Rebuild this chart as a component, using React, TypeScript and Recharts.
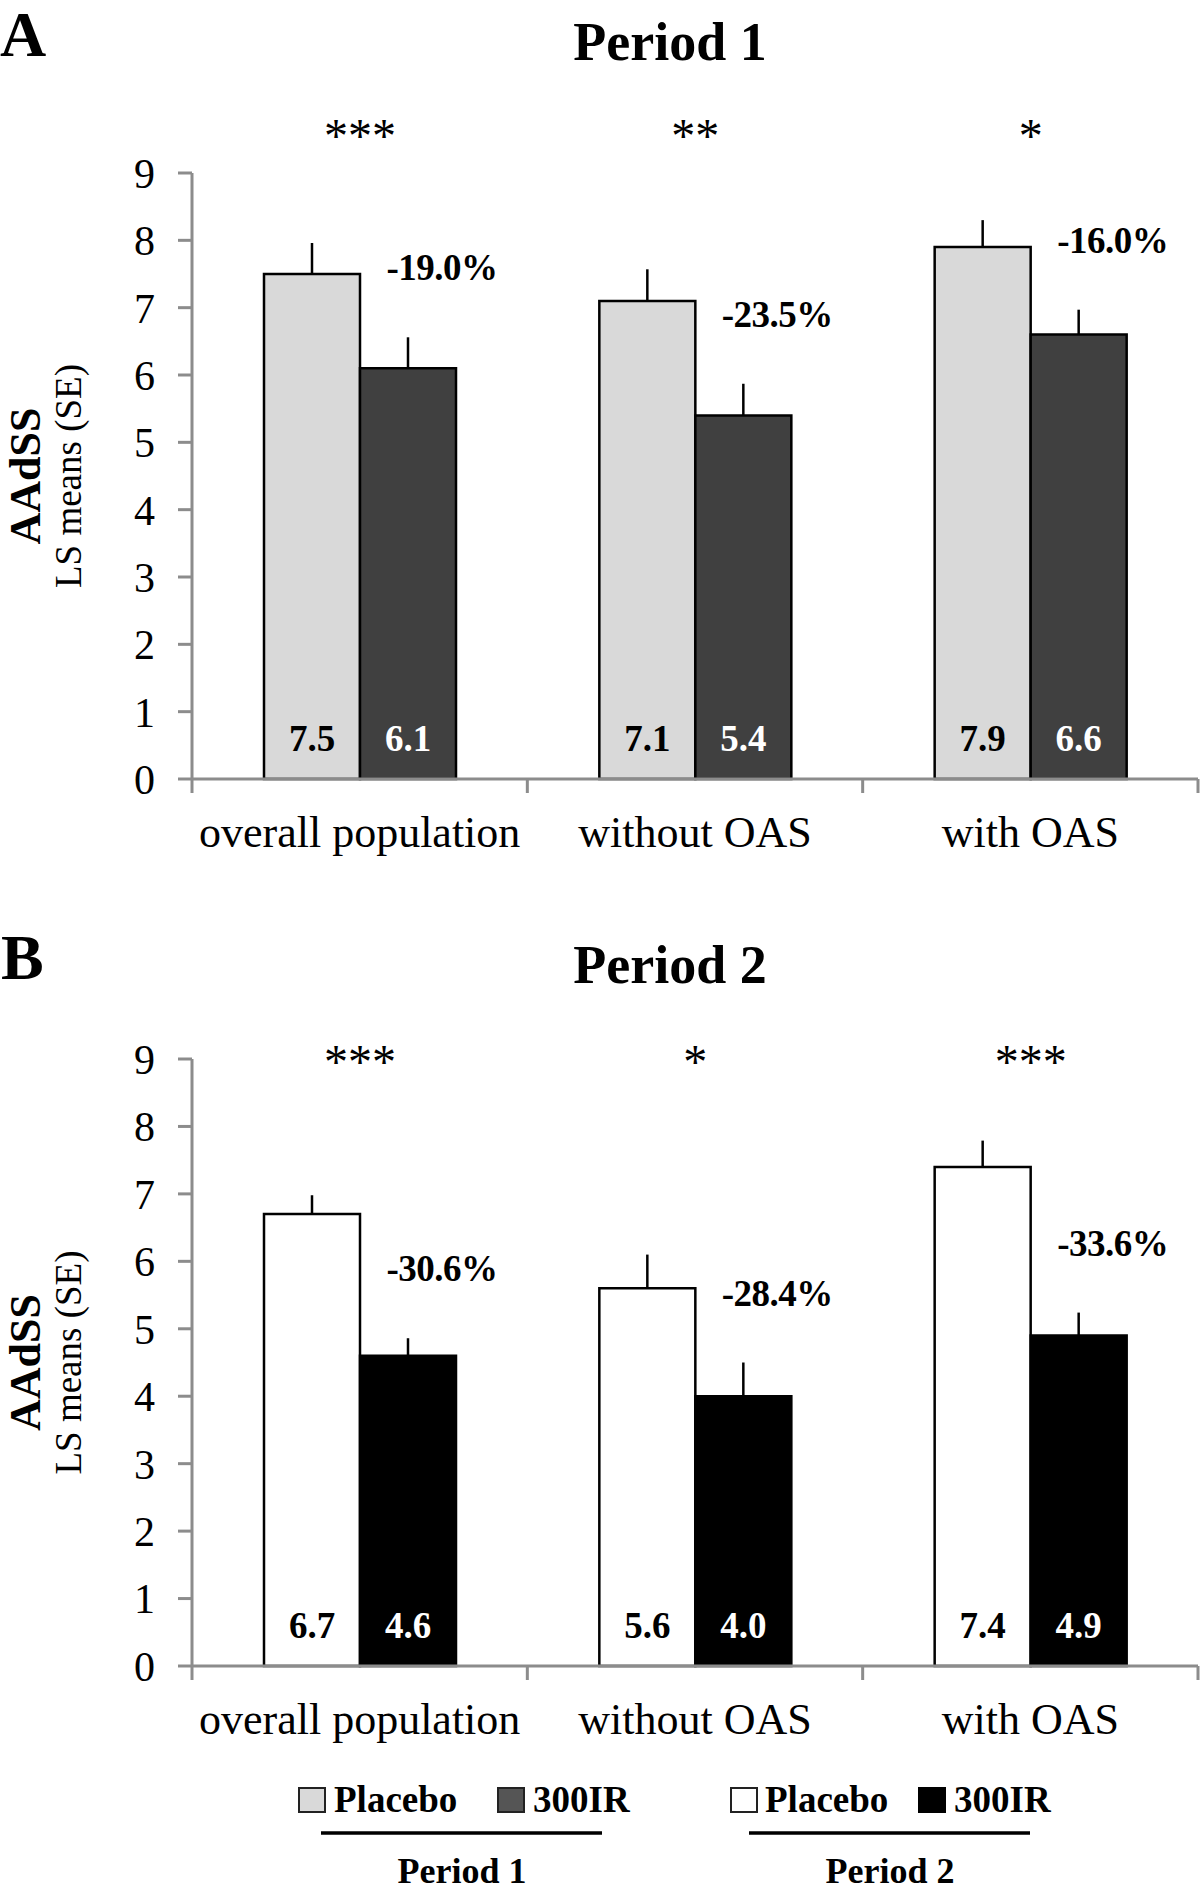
import React from 'react';
import { BarChart, Bar, XAxis, YAxis, ErrorBar, LabelList } from 'recharts';

// categories and values
const groups = ['overall population', 'without OAS', 'with OAS'];
const yTicks = [0, 1, 2, 3, 4, 5, 6, 7, 8, 9];

const p1Placebo = [7.5, 7.1, 7.9];
const p1Active = [6.1, 5.4, 6.6];
const p1PlaceboSE = [0.46, 0.47, 0.4];
const p1ActiveSE = [0.46, 0.47, 0.37];
const p1Change = ['-19.0%', '-23.5%', '-16.0%'];
const p1Stars = ['***', '**', '*'];

const p2Placebo = [6.7, 5.6, 7.4];
const p2Active = [4.6, 4.0, 4.9];
const p2PlaceboSE = [0.28, 0.5, 0.39];
const p2ActiveSE = [0.26, 0.5, 0.34];
const p2Change = ['-30.6%', '-28.4%', '-33.6%'];
const p2Stars = ['***', '*', '***'];

const FONT = "'Liberation Serif', 'Times New Roman', Times, serif";
const AXIS_GREY = '#8c8c8c';

function buildRows(
  placebo: number[],
  active: number[],
  placeboSE: number[],
  activeSE: number[],
  change: string[],
  stars: string[]
) {
  return groups.map((g, i) => ({
    group: g,
    placebo: placebo[i],
    active: active[i],
    placeboErr: [0, placeboSE[i]],
    activeErr: [0, activeSE[i]],
    activeSE: activeSE[i],
    change: change[i],
    stars: stars[i]
  }));
}

const rows1 = buildRows(p1Placebo, p1Active, p1PlaceboSE, p1ActiveSE, p1Change, p1Stars);
const rows2 = buildRows(p2Placebo, p2Active, p2PlaceboSE, p2ActiveSE, p2Change, p2Stars);

// x axis: labels at band centres, tick marks at band edges
const CategoryTick = (props: any) => {
  const { x, y, payload, index, visibleTicksCount } = props;
  const half = payload && payload.offset ? payload.offset : 0;
  const last = index === (visibleTicksCount ?? 3) - 1;
  return (
    <g>
      <line x1={x - half} x2={x - half} y1={y} y2={y + 14} stroke={AXIS_GREY} strokeWidth={3} />
      {last && (
        <line x1={x + half} x2={x + half} y1={y} y2={y + 14} stroke={AXIS_GREY} strokeWidth={3} />
      )}
      <text x={x} y={y + 68} textAnchor="middle" fontFamily={FONT} fontSize={44} fill="#000">
        {payload.value}
      </text>
    </g>
  );
};

const AxisTitle = (props: any) => {
  const vb = props.viewBox || {};
  const cy = vb.y + vb.height / 2;
  return (
    <g>
      <text
        x={40}
        y={cy}
        transform={`rotate(-90, 40, ${cy})`}
        textAnchor="middle"
        fontFamily={FONT}
        fontWeight="bold"
        fontSize={44}
        fill="#000"
      >
        AAdSS
      </text>
      <text
        x={81}
        y={cy}
        transform={`rotate(-90, 81, ${cy})`}
        textAnchor="middle"
        fontFamily={FONT}
        fontSize={37}
        fill="#000"
      >
        LS means (SE)
      </text>
    </g>
  );
};

interface PanelProps {
  rows: ReturnType<typeof buildRows>;
  placeboFill: string;
  activeFill: string;
  top: number;
  height: number;
  plotTop: number;
  plotBottom: number;
  starsY: number;
}

function Panel({ rows, placeboFill, activeFill, top, height, plotTop, plotBottom, starsY }: PanelProps) {
  const valueLabel = (color: string) => (p: any) => (
    <text
      x={p.x + p.width / 2}
      y={p.y + p.height - 28}
      textAnchor="middle"
      fontFamily={FONT}
      fontWeight="bold"
      fontSize={37}
      fill={color}
    >
      {Number(p.value).toFixed(1)}
    </text>
  );

  const starsLabel = (p: any) => (
    <text x={p.x + p.width} y={starsY} textAnchor="middle" fontFamily={FONT} fontSize={48} fill="#000">
      {p.value}
    </text>
  );

  const changeLabel = (p: any) => {
    const row = rows[p.index];
    const pxPerUnit = p.height / row.active;
    const errTop = p.y - row.activeSE * pxPerUnit;
    return (
      <text
        x={p.x + p.width / 2 + 34}
        y={errTop - 57}
        textAnchor="middle"
        fontFamily={FONT}
        fontWeight="bold"
        fontSize={37}
        letterSpacing={-0.5}
        fill="#000"
      >
        {p.value}
      </text>
    );
  };

  return (
    <div style={{ position: 'absolute', left: 0, top, width: 1200, height }}>
      <BarChart
        width={1200}
        height={height}
        data={rows}
        margin={{ top: plotTop, right: 2, left: 0, bottom: 0 }}
        barSize={96}
        barGap={0}
      >
        <XAxis
          dataKey="group"
          interval={0}
          height={height - plotBottom}
          tickSize={0}
          tickMargin={0}
          tickLine={false}
          axisLine={{ stroke: AXIS_GREY, strokeWidth: 3 }}
          tick={<CategoryTick />}
        />
        <YAxis
          type="number"
          domain={[0, 9]}
          ticks={yTicks}
          interval={0}
          width={192}
          tickSize={14}
          tickMargin={23}
          axisLine={{ stroke: AXIS_GREY, strokeWidth: 3 }}
          tickLine={{ stroke: AXIS_GREY, strokeWidth: 3 }}
          tick={{ fontFamily: FONT, fontSize: 42, fill: '#000' }}
          label={<AxisTitle />}
        />
        <Bar dataKey="placebo" fill={placeboFill} stroke="#000" strokeWidth={2.5} isAnimationActive={false}>
          <ErrorBar dataKey="placeboErr" direction="y" width={0} stroke="#000" strokeWidth={2.5} />
          <LabelList dataKey="placebo" content={valueLabel('#000')} />
          <LabelList dataKey="stars" content={starsLabel} />
        </Bar>
        <Bar dataKey="active" fill={activeFill} stroke="#000" strokeWidth={2.5} isAnimationActive={false}>
          <ErrorBar dataKey="activeErr" direction="y" width={0} stroke="#000" strokeWidth={2.5} />
          <LabelList dataKey="active" content={valueLabel('#fff')} />
          <LabelList dataKey="change" content={changeLabel} />
        </Bar>
      </BarChart>
    </div>
  );
}

const legendText = { fontFamily: FONT, fontWeight: 'bold' as const, fill: '#000' };

export default function App() {
  return (
    <div style={{ position: 'absolute', left: 0, top: 0, width: 1200, height: 1892, background: '#fff' }}>
      <Panel
        rows={rows1}
        placeboFill="#d9d9d9"
        activeFill="#404040"
        top={0}
        height={880}
        plotTop={173}
        plotBottom={779}
        starsY={152}
      />
      <Panel
        rows={rows2}
        placeboFill="#ffffff"
        activeFill="#000000"
        top={900}
        height={860}
        plotTop={159}
        plotBottom={766}
        starsY={178}
      />
      <svg
        width={1200}
        height={1892}
        style={{ position: 'absolute', left: 0, top: 0, pointerEvents: 'none' }}
      >
        <text x={0} y={56} {...legendText} fontSize={64}>A</text>
        <text x={670} y={60} {...legendText} fontSize={54} textAnchor="middle">Period 1</text>
        <text x={1} y={979} {...legendText} fontSize={64}>B</text>
        <text x={670} y={983} {...legendText} fontSize={54} textAnchor="middle">Period 2</text>

        {/* legend */}
        <rect x={299} y={1788} width={26} height={24} fill="#d9d9d9" stroke="#222" strokeWidth={2} />
        <text x={334} y={1812} {...legendText} fontSize={37}>Placebo</text>
        <rect x={498} y={1788} width={26} height={24} fill="#555" stroke="#222" strokeWidth={2} />
        <text x={533} y={1812} {...legendText} fontSize={37}>300IR</text>
        <line x1={321} x2={602} y1={1833} y2={1833} stroke="#000" strokeWidth={3.5} />
        <text x={462} y={1883} {...legendText} fontSize={36} textAnchor="middle">Period 1</text>

        <rect x={731} y={1788} width={26} height={24} fill="#fff" stroke="#222" strokeWidth={2} />
        <text x={765} y={1812} {...legendText} fontSize={37}>Placebo</text>
        <rect x={919} y={1788} width={26} height={24} fill="#000" stroke="#000" strokeWidth={2} />
        <text x={954} y={1812} {...legendText} fontSize={37}>300IR</text>
        <line x1={749} x2={1030} y1={1833} y2={1833} stroke="#000" strokeWidth={3.5} />
        <text x={890} y={1883} {...legendText} fontSize={36} textAnchor="middle">Period 2</text>
      </svg>
    </div>
  );
}
